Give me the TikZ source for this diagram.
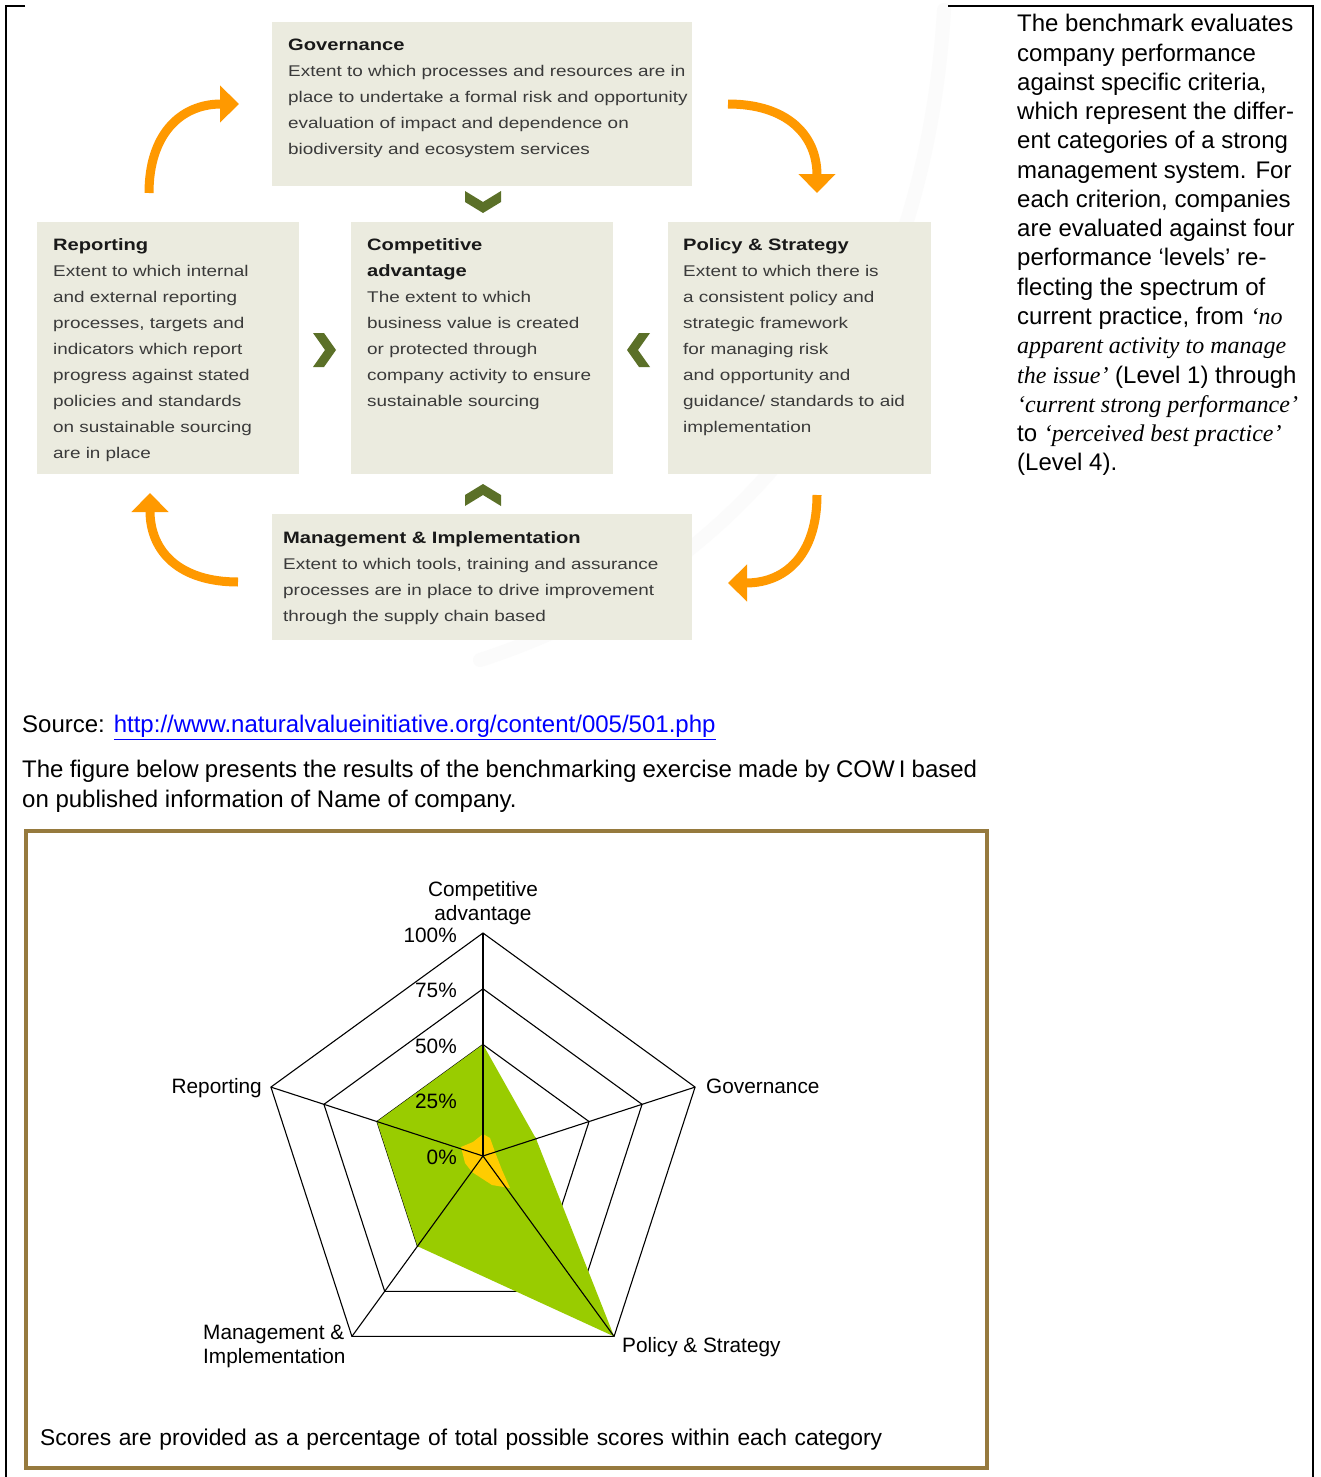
\documentclass[tikz,border=0pt]{standalone}
\usepackage{fontspec}
\setmainfont{Liberation Sans}
\newfontfamily\boxfont[FakeStretch=1.22]{Liberation Sans}
\newfontfamily\serifit{Liberation Serif}
\usetikzlibrary{arrows.meta,calc}
\definecolor{boxbg}{RGB}{235,235,223}
\definecolor{chev}{RGB}{91,112,40}
\definecolor{arr}{RGB}{255,153,0}
\definecolor{bodytxt}{RGB}{58,58,58}
\definecolor{headtxt}{RGB}{25,25,25}
\definecolor{frameb}{RGB}{150,122,62}
\definecolor{grn}{RGB}{153,204,0}
\definecolor{ylw}{RGB}{255,204,0}
\definecolor{linkblue}{RGB}{0,0,255}
\newcommand{\hd}[1]{{\fontsize{16.5}{26}\selectfont\bfseries\color{headtxt}#1}}
\newcommand{\sit}[1]{{\serifit\itshape #1}}
\begin{document}
\begin{tikzpicture}[x=1pt,y=-1pt,
  box/.style={fill=boxbg, draw=none, anchor=north west, inner sep=0pt},
  btext/.style={anchor=north west, inner sep=0pt, align=left, text=bodytxt,
    font=\boxfont\fontsize{15.5}{26}\selectfont},
  chevron/.style={fill=chev, draw=none},
  cyc/.style={draw=arr, line width=9pt, -{Triangle[width=36pt,length=19pt]}},
  lbl/.style={inner sep=0pt, font=\fontsize{20.8}{24}\selectfont},
  grid/.style={draw=black, line width=1.1pt}
]
\useasboundingbox (0,0) rectangle (1320,1477);
\fill[white] (0,0) rectangle (1320,1477);

% faint swoosh
\draw[black!1.5, line width=14pt, line cap=round] (944,10) .. controls (925,330) and (760,570) .. (480,660);

% page border lines
\draw[line width=1.3pt] (25,6) -- (6,6) -- (6,1477);
\draw[line width=1.3pt] (948,6) -- (1313,6) -- (1313,1477);

% boxes
\node[box, minimum width=420pt, minimum height=164pt] (gov) at (272,22) {};
\node[box, minimum width=262pt, minimum height=252pt] (rep) at (37,222) {};
\node[box, minimum width=262pt, minimum height=252pt] (comp) at (351,222) {};
\node[box, minimum width=263pt, minimum height=252pt] (pol) at (668,222) {};
\node[box, minimum width=420pt, minimum height=126pt] (mgmt) at (272,514) {};

\node[btext] (govt) at (288,32.3) {\strut\hd{Governance}\\
Extent to which processes and resources are in\\
place to undertake a formal risk and opportunity\\
evaluation of impact and dependence on\\
biodiversity and ecosystem services};

\node[btext] (rept) at (53,231.8) {\strut\hd{Reporting}\\
Extent to which internal\\
and external reporting\\
processes, targets and\\
indicators which report\\
progress against stated\\
policies and standards\\
on sustainable sourcing\\
are in place};

\node[btext] (compt) at (367,231.8) {\strut\hd{Competitive}\\
\hd{advantage}\\
The extent to which\\
business value is created\\
or protected through\\
company activity to ensure\\
sustainable sourcing};

\node[btext] (polt) at (683,231.8) {\strut\hd{Policy \& Strategy}\\
Extent to which there is\\
a consistent policy and\\
strategic framework\\
for managing risk\\
and opportunity and\\
guidance/ standards to aid\\
implementation};

\node[btext] (mgmtt) at (283,524.8) {\strut\hd{Management \& Implementation}\\
Extent to which tools, training and assurance\\
processes are in place to drive improvement\\
through the supply chain based};

% chevrons
\fill[chevron] (465,191) -- (483,202) -- (501,191) -- (501,202) -- (483,213) -- (465,202) -- cycle;
\fill[chevron] (465,506) -- (483,495) -- (501,506) -- (501,495) -- (483,484) -- (465,495) -- cycle;
\fill[chevron] (313,333) -- (324,333) -- (336,350) -- (324,367) -- (313,367) -- (325,350) -- cycle;
\fill[chevron] (650,333) -- (639,333) -- (627,350) -- (639,367) -- (650,367) -- (638,350) -- cycle;

% orange cycle arrows
\coordinate (a1s) at (149,193); \coordinate (a1e) at (239,104);
\coordinate (a2s) at (728,104); \coordinate (a2e) at (817,193);
\coordinate (a3s) at (817,495); \coordinate (a3e) at (728,583);
\coordinate (a4s) at (238,582); \coordinate (a4e) at (150,493);
\draw[cyc] (a1s) .. controls (149,135) and (180,104) .. (a1e);
\draw[cyc] (a2s) .. controls (787,104) and (817,135) .. (a2e);
\draw[cyc] (a3s) .. controls (817,553) and (787,583) .. (a3e);
\draw[cyc] (a4s) .. controls (180,582) and (150,552) .. (a4e);

% side text
\node[anchor=north west, inner sep=0pt, align=left, font=\fontsize{24}{29.27}\selectfont] (side) at (1017,11.1) {\strut The benchmark evaluates\\
company performance\\
against specific criteria,\\
which represent the differ-\\
ent categories of a strong\\
management system. For\\
each criterion, companies\\
are evaluated against four\\
performance ‘levels’ re-\\
flecting the spectrum of\\
current practice, from \sit{‘no}\\
\sit{apparent activity to manage}\\
\sit{the issue’} (Level 1) through\\
\sit{‘current strong performance’}\\
to \sit{‘perceived best practice’}\\
(Level 4).};

% source and intro text
\node[anchor=base west, inner sep=0pt, font=\fontsize{24}{30}\selectfont] (src) at (22,732.5) {Source: {\color{linkblue}\underline{http://www.naturalvalueinitiative.org/content/005/501.php}}};
\node[anchor=north west, inner sep=0pt, align=left, font=\fontsize{24}{30}\selectfont] (intro) at (22,756.5) {\strut\makebox[955pt][s]{The figure below presents the results of the benchmarking exercise made by COW\,I based}\\
on published information of Name of company.};

% chart frame
\node[draw=frameb, line width=4pt, anchor=north west, inner sep=0pt, minimum width=961pt, minimum height=637pt] (chartframe) at (24,829) {};

% radar chart
\begin{scope}[shift={(483,1156)}, yscale=-1]
  \foreach \r in {55.75,111.5,167.25,223}
    \draw[grid] (90:\r) -- (18:\r) -- (-54:\r) -- (-126:\r) -- (162:\r) -- cycle;
  \fill[grn] (90:111.5) -- (18:55.75) -- (-54:223) -- (-126:111.5) -- (162:111.5) -- cycle;
  \fill[ylw] (0,22) -- (-10,14) -- (-22,9) -- (-18,-7) -- (-11,-16) -- (9,-29) -- (27,-32) -- (19,-14) -- (12,4) -- (7,18) -- cycle;
  \foreach \a in {90,18,-54,-126,162}
    \draw[grid] (0,0) -- (\a:223);
\end{scope}

\node[lbl, anchor=north, align=center] (lca) at (483,879) {\strut Competitive\\advantage};
\node[lbl, anchor=base east] (p100) at (457,942.4) {100\%};
\node[lbl, anchor=base east] (p75) at (457,997.4) {75\%};
\node[lbl, anchor=base east] (p50) at (457,1053.4) {50\%};
\node[lbl, anchor=base east] (p25) at (457,1108.4) {25\%};
\node[lbl, anchor=base east] (p0) at (457,1164.4) {0\%};
\node[lbl, anchor=base east] (lrep) at (262,1093.4) {Reporting};
\node[lbl, anchor=base west] (lgov) at (706,1093.4) {Governance};
\node[lbl, anchor=base west] (lpol) at (622,1352.4) {Policy \& Strategy};
\node[lbl, anchor=north west, align=left] (lmgmt) at (203,1322.6) {\strut Management \&\\Implementation};

\node[anchor=base west, inner sep=0pt, font=\fontsize{22.8}{26}\selectfont] (foot) at (40,1445) {\makebox[842pt][s]{Scores are provided as a percentage of total possible scores within each category}};
\end{tikzpicture}
\end{document}
